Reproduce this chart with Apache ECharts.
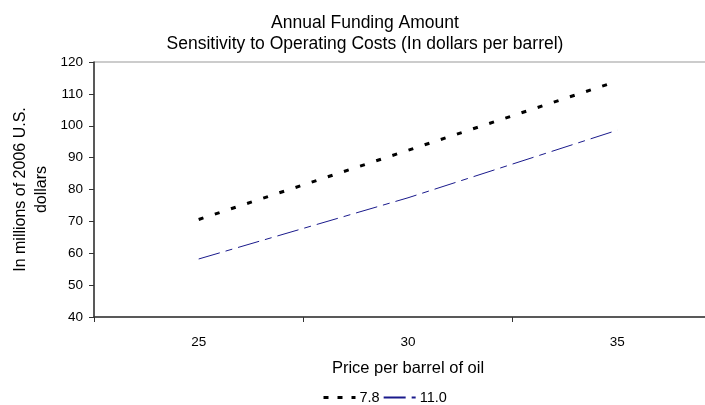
<!DOCTYPE html>
<html>
<head>
<meta charset="utf-8">
<script src="https://cdn.jsdelivr.net/npm/echarts@6/dist/echarts.min.js"></script>
<style>
  html, body { margin: 0; padding: 0; background: #fff; }
  #main { width: 705px; height: 405px; }
</style>
</head>
<body>
<div id="main"></div>
<script>
// price per barrel (x axis)
var prices = ['25', '30', '35'];
// annual funding, operating cost 7.8 $/bbl
var cost78 = [70.6, 92.3, 114.0];
// annual funding, operating cost 11.0 $/bbl
var cost110 = [58.2, 77.4, 98.6];
var yTicks = { min: 40, max: 120, step: 10 };

var font = 'Liberation Sans, Arial, sans-serif';
var myChart = echarts.init(document.getElementById('main'));

var option = {
    animation: false,
    backgroundColor: '#fff',
    textStyle: { fontFamily: font, color: '#000' },
    title: {
        text: 'Annual Funding Amount\nSensitivity to Operating Costs (In dollars per barrel)',
        left: 360,
        top: 8,
        textAlign: 'center',
        textStyle: { fontFamily: font, fontSize: 17.5, fontWeight: 'normal', color: '#000', lineHeight: 21 }
    },
    legend: {
        // the short legend sample needs a tighter dot spacing to show three dots
        data: [
            { name: '7.8', lineStyle: { type: [5, 9], width: 3 } },
            { name: '11.0' }
        ],
        left: 317,
        top: 385,
        itemWidth: 32,
        itemHeight: 10,
        itemGap: 3,
        itemStyle: { opacity: 0 },
        textStyle: { fontFamily: font, fontSize: 14.5, color: '#000', padding: [0, 0, 0, -1] }
    },
    grid: {
        left: 94,
        top: 62,
        bottom: 88,
        right: -17,
        outerBoundsMode: 'none',
        containLabel: false,
        show: true,
        borderColor: '#999',
        borderWidth: 1
    },
    xAxis: {
        type: 'category',
        data: prices,
        boundaryGap: true,
        name: 'Price per barrel of oil',
        nameLocation: 'middle',
        nameGap: 43,
        nameMoveOverlap: false,
        nameTextStyle: { fontFamily: font, fontSize: 16.5, color: '#000' },
        axisLine: { lineStyle: { color: '#333', width: 1.5 } },
        axisTick: { show: true, length: 5, lineStyle: { color: '#333' } },
        axisLabel: { fontFamily: font, fontSize: 13.5, color: '#000', margin: 18 },
        splitLine: { show: false }
    },
    yAxis: {
        type: 'value',
        min: yTicks.min,
        max: yTicks.max,
        interval: yTicks.step,
        name: 'In millions of 2006 U.S.\ndollars',
        nameLocation: 'middle',
        nameGap: 42,
        nameRotate: 90,
        nameMoveOverlap: false,
        nameTextStyle: { fontFamily: font, fontSize: 16, color: '#000', lineHeight: 21, align: 'center' },
        axisLine: { show: true, lineStyle: { color: '#333', width: 1.5 } },
        axisTick: { show: true, length: 5, lineStyle: { color: '#333' } },
        axisLabel: { fontFamily: font, fontSize: 13.5, color: '#000', margin: 11 },
        splitLine: { show: false }
    },
    series: [
        {
            name: '7.8',
            type: 'line',
            data: cost78,
            symbol: 'none',
            itemStyle: { color: '#000' },
            lineStyle: { color: '#000', width: 3, type: [5, 12] }
        },
        {
            name: '11.0',
            type: 'line',
            data: cost110,
            symbol: 'none',
            itemStyle: { color: '#1a1a8c' },
            lineStyle: { color: '#1a1a8c', width: 1, type: [22, 6, 7, 6] }
        }
    ]
};

myChart.setOption(option);
</script>
</body>
</html>
